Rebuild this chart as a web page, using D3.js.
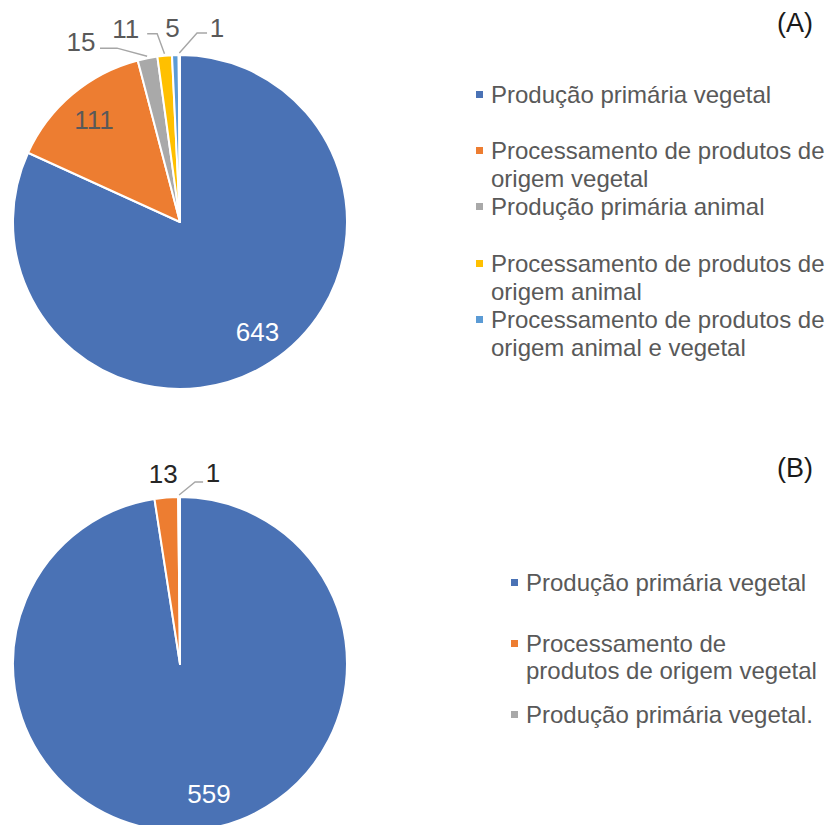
<!DOCTYPE html>
<html>
<head>
<meta charset="utf-8">
<script src="https://cdn.jsdelivr.net/npm/d3@7"></script>
<style>
  html, body { margin: 0; padding: 0; background: #fff; }
  svg { display: block; font-family: "Liberation Sans", Arial, sans-serif; }
</style>
</head>
<body>
<svg id="chart" width="831" height="825"></svg>
<script>
// ---------- DATA ----------
const categoriesA = [
  ["Produção primária vegetal"],
  ["Processamento de produtos de", "origem vegetal"],
  ["Produção primária animal"],
  ["Processamento de produtos de", "origem animal"],
  ["Processamento de produtos de", "origem animal e vegetal"]
];
const valuesA = [643, 111, 15, 11, 5, 1];

const categoriesB = [
  ["Produção primária vegetal"],
  ["Processamento de", "produtos de origem vegetal"],
  ["Produção primária vegetal."]
];
const valuesB = [559, 13, 1];

const panelTitles = ["(A)", "(B)"];

// ---------- STYLE / LAYOUT ----------
const palette = ["#4A72B5", "#ED7D31", "#A9A9A9", "#FFC000", "#5B9BD5", "#70AD47"];
const R = 167;
const FONT = 24;       // legend
const LFONT = 26;      // data labels / titles
const textGray = "#595959";

const svg = d3.select("#chart");

const labelSpecA = [
  {type: "in", k: 0.78, dx: 7, color: "#fff"},
  {type: "in", k: 0.80, dx: 0, color: textGray},
  {type: "out", dx: -66.5, dy: -7, color: textGray, leader: [[36, -3], [19, -3]]},
  {type: "out", dx: -39, dy: -18, color: textGray, leader: [[31.5, -4], [21.5, -4]]},
  {type: "out", dx: -2.8, dy: -18, color: textGray},
  {type: "out", dx: 37.7, dy: -18, color: textGray, leader: [[-20, -4], [-10, -4]]}
];
const labelSpecB = [
  {type: "in", k: 0.78, dx: 19, color: "#fff"},
  {type: "out", dx: -3, dy: -15, color: "#262626"},
  {type: "out", dx: 34, dy: -15, color: "#262626", leader: [[-18, 0], [-10, 0]]}
];

function drawPie(cx, cy, values, labelSpec) {
  const g = svg.append("g").attr("transform", `translate(${cx},${cy})`);
  const pie = d3.pie().sort(null).value(d => d)(values);
  const arc = d3.arc().innerRadius(0).outerRadius(R);

  g.selectAll("path.slice")
    .data(pie)
    .join("path")
    .attr("class", "slice")
    .attr("d", arc)
    .attr("fill", (d, i) => palette[i])
    .attr("stroke", "#fff")
    .attr("stroke-width", 2)
    .attr("stroke-linejoin", "round");

  const lg = g.append("g");
  pie.forEach((d, i) => {
    const s = labelSpec[i];
    const a = (d.startAngle + d.endAngle) / 2;
    const ux = Math.sin(a), uy = -Math.cos(a);
    let tx, ty;
    if (s.type === "in") {
      tx = ux * R * s.k + s.dx;
      ty = uy * R * s.k + LFONT * 0.36;
    } else {
      tx = ux * R + s.dx;
      ty = uy * R + s.dy;
      if (s.leader) {
        const pts = [[ux * (R + 2), uy * (R + 2)]]
          .concat(s.leader.map(p => [tx + p[0], ty + p[1]]));
        lg.append("path")
          .attr("d", d3.line()(pts))
          .attr("fill", "none")
          .attr("stroke", "#A6A6A6")
          .attr("stroke-width", 1.4);
      }
    }
    lg.append("text")
      .attr("x", tx)
      .attr("y", ty)
      .attr("text-anchor", "middle")
      .attr("font-size", LFONT)
      .attr("fill", s.color)
      .text(d.data);
  });
}

function drawLegend(x, baselines, cats, lineH) {
  const g = svg.append("g");
  cats.forEach((lines, i) => {
    g.append("rect")
      .attr("x", x)
      .attr("y", baselines[i] - 12)
      .attr("width", 7)
      .attr("height", 7)
      .attr("fill", palette[i]);
    const t = g.append("text")
      .attr("x", x + 15)
      .attr("y", baselines[i])
      .attr("font-size", FONT)
      .attr("fill", textGray);
    lines.forEach((ln, j) => {
      t.append("tspan")
        .attr("x", x + 15)
        .attr("y", baselines[i] + j * lineH)
        .text(ln);
    });
  });
}

// Panel A
drawPie(180, 222, valuesA, labelSpecA);
drawLegend(476, [103, 159, 215, 272, 328], categoriesA, 27.5);
svg.append("text").attr("x", 777).attr("y", 32).attr("font-size", LFONT + 1)
  .attr("fill", "#1a1a1a").text(panelTitles[0]);

// Panel B
drawPie(180, 664, valuesB, labelSpecB);
drawLegend(511, [591, 652, 723], categoriesB, 27);
svg.append("text").attr("x", 777).attr("y", 477).attr("font-size", LFONT + 1)
  .attr("fill", "#1a1a1a").text(panelTitles[1]);
</script>
</body>
</html>
